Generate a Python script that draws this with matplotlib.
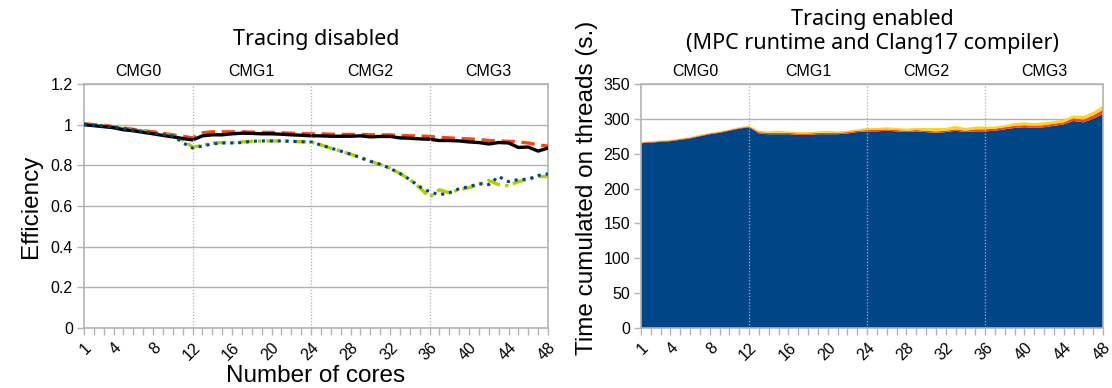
import numpy as np
import matplotlib
matplotlib.use('Agg')
import matplotlib.pyplot as plt
from matplotlib.ticker import FixedLocator, FuncFormatter

cores = list(range(1, 49))
major_cores = [1, 4, 8, 12, 16, 20, 24, 28, 32, 36, 40, 44, 48]
cmg_names = ['CMG0', 'CMG1', 'CMG2', 'CMG3']
cmg_bounds = [12, 24, 36]

# left panel: efficiency, tracing disabled
eff_black = [1.000, 0.995, 0.990, 0.985, 0.975, 0.970, 0.962, 0.955, 0.947, 0.940, 0.932, 0.925,
             0.945, 0.950, 0.950, 0.955, 0.958, 0.957, 0.955, 0.955, 0.953, 0.950, 0.948, 0.945,
             0.945, 0.943, 0.943, 0.943, 0.945, 0.940, 0.942, 0.942, 0.935, 0.933, 0.930, 0.928,
             0.922, 0.922, 0.920, 0.915, 0.912, 0.905, 0.912, 0.910, 0.888, 0.890, 0.870, 0.885]
eff_red = [1.005, 1.000, 0.997, 0.990, 0.983, 0.977, 0.970, 0.965, 0.957, 0.950, 0.943, 0.935,
           0.960, 0.965, 0.965, 0.965, 0.965, 0.963, 0.962, 0.962, 0.960, 0.958, 0.956, 0.955,
           0.955, 0.953, 0.952, 0.952, 0.952, 0.950, 0.950, 0.950, 0.947, 0.945, 0.945, 0.942,
           0.938, 0.935, 0.932, 0.930, 0.927, 0.922, 0.920, 0.918, 0.915, 0.910, 0.900, 0.895]
eff_yellow = [1.003, 0.998, 0.994, 0.988, 0.980, 0.974, 0.967, 0.960, 0.953, 0.945, 0.925, 0.890,
              0.898, 0.910, 0.912, 0.912, 0.915, 0.918, 0.920, 0.920, 0.920, 0.918, 0.916, 0.915,
              0.900, 0.885, 0.870, 0.855, 0.838, 0.820, 0.805, 0.785, 0.760, 0.730, 0.690, 0.644,
              0.680, 0.665, 0.680, 0.690, 0.705, 0.725, 0.705, 0.700, 0.720, 0.730, 0.745, 0.745]
eff_blue = [1.003, 0.998, 0.994, 0.988, 0.980, 0.974, 0.967, 0.960, 0.953, 0.945, 0.912, 0.885,
            0.895, 0.905, 0.910, 0.910, 0.912, 0.918, 0.920, 0.920, 0.920, 0.918, 0.916, 0.915,
            0.900, 0.885, 0.870, 0.855, 0.838, 0.820, 0.805, 0.785, 0.760, 0.730, 0.695, 0.670,
            0.655, 0.665, 0.685, 0.695, 0.710, 0.705, 0.745, 0.720, 0.730, 0.732, 0.750, 0.758]

# right panel: stacked time, tracing enabled
time_blue = [265, 266, 267, 268, 270, 272, 275, 278, 280, 283, 286, 288,
             279, 278, 278, 278, 277, 277, 278, 278, 278, 279, 281, 282,
             282, 283, 282, 281, 282, 281, 280, 281, 283, 281, 282, 282,
             283, 285, 287, 288, 287, 288, 290, 292, 297, 295, 300, 307]
time_red = [1, 1, 1, 1, 1, 1, 1, 1, 1, 1, 1, 1,
            2, 2, 2, 2, 2, 2, 2, 2, 2, 2, 2, 2,
            2, 2, 2, 2, 2, 2, 2, 2, 2, 2, 3, 3,
            3, 3, 3, 3, 3, 3, 3, 3, 4, 4, 5, 6]
time_yellow = [1, 1, 1, 1, 1, 1, 1, 1, 1, 1, 1, 1,
               2, 2, 3, 2, 2, 2, 2, 3, 2, 2, 2, 3,
               3, 3, 3, 3, 3, 4, 5, 4, 5, 4, 4, 4,
               3, 3, 4, 4, 4, 4, 4, 4, 4, 5, 5, 6]

TICKFONT = 'Liberation Sans'
TITLEFONT = 'Noto Sans'
GRIDC = '#b3b3b3'


def style_axes(ax, ymax, ystep):
    ax.set_xlim(1, 48)
    ax.set_ylim(0, ymax)
    ax.xaxis.set_major_locator(FixedLocator(major_cores))
    ax.xaxis.set_minor_locator(FixedLocator(cores))
    ax.set_yticks(np.arange(0, ymax + ystep / 2, ystep))
    ax.yaxis.set_major_formatter(FuncFormatter(lambda v, p: '{:g}'.format(round(v, 6))))
    ax.grid(axis='y', color=GRIDC, linewidth=1)
    ax.set_axisbelow(True)
    for s in ax.spines.values():
        s.set_color(GRIDC)
        s.set_linewidth(1.2)
    ax.tick_params(axis='x', which='both', length=5, color=GRIDC, width=1, direction='out')
    ax.tick_params(axis='y', length=5, color=GRIDC, width=1, direction='out', pad=3)
    for lab in ax.get_xticklabels():
        lab.set_rotation(45)
        lab.set_ha('right')
        lab.set_rotation_mode('anchor')
        lab.set_fontfamily(TICKFONT)
        lab.set_fontsize(11.5)
    for lab in ax.get_yticklabels():
        lab.set_fontfamily(TICKFONT)
        lab.set_fontsize(11.5)
    for b in cmg_bounds:
        ax.axvline(b, color='#b0b0b0', linestyle=(0, (1, 1.5)), linewidth=0.9, zorder=5)
    # CMG labels above the axes
    edges = [1] + cmg_bounds + [48]
    for i, name in enumerate(cmg_names):
        ax.text((edges[i] + edges[i + 1]) / 2, 1.02, name, transform=ax.get_xaxis_transform(),
                ha='center', va='bottom', fontsize=11.5, family=TICKFONT)


fig = plt.figure(figsize=(11.12, 3.88), dpi=100)
ax1 = fig.add_axes([84 / 1112, 60 / 388, 464 / 1112, 244 / 388])
ax2 = fig.add_axes([641 / 1112, 60 / 388, 462 / 1112, 244 / 388])

ax1.plot(cores, eff_red, color='#ff420e', linewidth=2.4, linestyle=(0, (4, 2)), zorder=3)
ax1.plot(cores, eff_black, color='#000000', linewidth=2.4, zorder=4)
ax1.plot(cores, eff_yellow, color='#aecf00', linewidth=2.4, linestyle=(0, (4, 1.5, 1, 1.5)), zorder=3)
ax1.plot(cores, eff_blue, color='#004586', linewidth=2.2, linestyle=(0, (1, 1.6)), zorder=4)
style_axes(ax1, 1.2, 0.2)
ax1.set_title('Tracing disabled', fontsize=15.5, family=TITLEFONT, pad=28)
ax1.set_ylabel('Efficiency', fontsize=17.5, family=TICKFONT, labelpad=6)
ax1.set_xlabel('Number of cores', fontsize=17.5, family=TICKFONT, labelpad=1)

ax2.stackplot(cores, time_blue, time_red, time_yellow,
              colors=['#004586', '#ff420e', '#ffd320'], linewidth=0, zorder=2)
style_axes(ax2, 350, 50)
ax2.set_title('Tracing enabled\n(MPC runtime and Clang17 compiler)', fontsize=15.5,
              family=TITLEFONT, pad=25, linespacing=1.2)
ax2.set_ylabel('Time cumulated on threads (s.)', fontsize=17.5, family=TICKFONT)
ax2.yaxis.set_label_coords(-0.093, 0.574)

fig.savefig('out.png', dpi=100)
